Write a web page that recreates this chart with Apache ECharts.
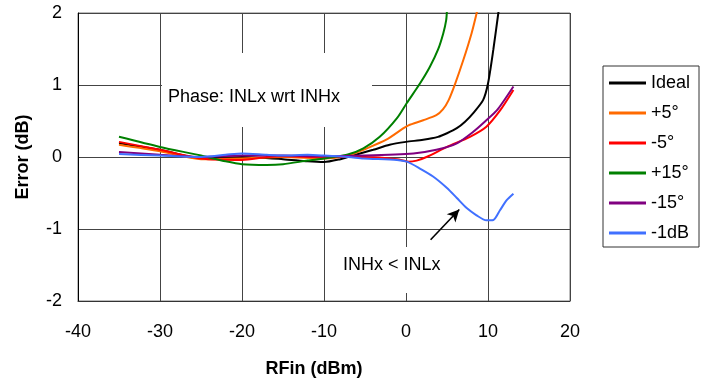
<!DOCTYPE html>
<html>
<head>
<meta charset="utf-8">
<script src="https://cdn.jsdelivr.net/npm/echarts@6/dist/echarts.min.js"></script>
<style>
  html, body { margin: 0; padding: 0; background: #fff; }
  #chart { width: 712px; height: 383px; }
</style>
</head>
<body>
<div id="chart"></div>
<script>
// Gain error vs. input power for several phase offsets between INLx and INHx
const seriesNames = ['Ideal', '+5°', '-5°', '+15°', '-15°', '-1dB'];
const seriesColors = ['#000000', '#ff6a00', '#ff0000', '#008000', '#800080', '#4070ff'];

// [RFin (dBm), Error (dB)]
const ideal = [[-35, 0.19], [-30, 0.10], [-25, -0.02], [-20, 0.0], [-15, -0.03], [-12, -0.06], [-10, -0.07],
  [-8, -0.03], [-6.8, 0.01], [-4, 0.10], [-2, 0.17], [0, 0.21], [2.1, 0.24], [3.9, 0.28], [5, 0.33],
  [6.2, 0.40], [7.2, 0.49], [8.2, 0.61], [9.4, 0.79], [10.0, 1.02], [10.65, 1.49], [11.26, 2.0], [11.4, 2.1]];
const plus5 = [[-35, 0.17], [-30, 0.08], [-25, -0.03], [-20, -0.02], [-15, 0.0], [-10, -0.02], [-7, 0.02],
  [-5.2, 0.10], [-2.4, 0.24], [-0.3, 0.40], [0.3, 0.44], [2.1, 0.51], [3.7, 0.58], [4.5, 0.66],
  [5.2, 0.79], [6.0, 1.02], [7.0, 1.35], [8.0, 1.72], [8.62, 2.0], [8.8, 2.1]];
const minus5 = [[-35, 0.21], [-30, 0.10], [-25, -0.02], [-20, -0.04], [-17, 0.0], [-15, 0.01], [-10, 0.0],
  [-5, 0.0], [-1.1, -0.03], [0.3, -0.065], [1.3, -0.05], [2.5, 0.0], [5.0, 0.14], [7.8, 0.28],
  [9.8, 0.42], [11.5, 0.65], [13.1, 0.93]];
const plus15 = [[-35, 0.28], [-30, 0.14], [-25, 0.02], [-22, -0.06], [-20, -0.10], [-17, -0.11], [-15, -0.10],
  [-12, -0.05], [-10, -0.02], [-7.2, 0.03], [-5.2, 0.12], [-3.2, 0.28], [-1.1, 0.54], [0.1, 0.75],
  [1.7, 1.02], [2.9, 1.25], [3.9, 1.49], [4.55, 1.72], [4.9, 1.9], [5.0, 2.05]];
const minus15 = [[-35, 0.07], [-30, 0.03], [-25, 0.0], [-20, 0.02], [-15, 0.02], [-10, 0.01], [-5, 0.02],
  [0.9, 0.05], [3.7, 0.10], [6.2, 0.19], [8.2, 0.35], [9.8, 0.51], [11.1, 0.65], [13.1, 0.98]];
const minus1dB = [[-35, 0.04], [-30, 0.02], [-25, 0.0], [-22, 0.03], [-20, 0.05], [-17, 0.03], [-15, 0.02],
  [-12, 0.03], [-10, 0.02], [-7, 0.0], [-5.2, -0.02], [-1.1, -0.04], [0.1, -0.065], [1.7, -0.16],
  [3.3, -0.27], [5.0, -0.43], [6.2, -0.57], [7.4, -0.71], [8.6, -0.81], [9.8, -0.88], [10.65, -0.875],
  [11.46, -0.74], [12.28, -0.60], [13.1, -0.51]];

const xTicks = [-40, -30, -20, -10, 0, 10, 20];
const yTicks = [-2, -1, 0, 1, 2];

// Annotation arrow pointing at the -1dB curve
const arrowFrom = [3.0, -1.15];
const arrowTo = [6.5, -0.73];

const allData = [ideal, plus5, minus5, plus15, minus15, minus1dB];
const FONT = 'Liberation Sans';

const chart = echarts.init(document.getElementById('chart'), null, { renderer: 'canvas' });

const series = allData.map((d, i) => ({
  name: seriesNames[i],
  type: 'line',
  data: d,
  smooth: 0.25,
  showSymbol: false,
  symbol: 'none',
  clip: true,
  z: 3,
  lineStyle: { color: seriesColors[i], width: 2 },
  itemStyle: { color: seriesColors[i] },
  emphasis: { disabled: true }
}));

series[5].markLine = {
  silent: true,
  symbol: ['none', 'arrow'],
  symbolSize: [9, 12],
  label: { show: false },
  lineStyle: { color: '#000', width: 1.6, type: 'solid' },
  data: [[{ coord: arrowFrom }, { coord: arrowTo }]]
};

chart.setOption({
  animation: false,
  backgroundColor: '#fff',
  grid: { left: 78, top: 13, right: 142, bottom: 82, show: true, borderColor: '#7a7a7a', borderWidth: 1 },
  xAxis: {
    type: 'value',
    min: xTicks[0], max: xTicks[xTicks.length - 1], interval: 10,
    axisLine: { show: true, onZero: false, lineStyle: { color: '#333', width: 1 } },
    axisTick: { show: false },
    splitLine: { show: true, lineStyle: { color: '#444', width: 1 } },
    axisLabel: { color: '#000', fontFamily: FONT, fontSize: 18, margin: 22 }
  },
  yAxis: {
    type: 'value',
    min: yTicks[0], max: yTicks[yTicks.length - 1], interval: 1,
    axisLine: { show: true, onZero: false, lineStyle: { color: '#000', width: 1 } },
    axisTick: { show: false },
    splitLine: { show: true, lineStyle: { color: '#444', width: 1 } },
    axisLabel: { color: '#000', fontFamily: FONT, fontSize: 18, margin: 16 }
  },
  legend: {
    orient: 'vertical',
    left: 609, top: 73,
    padding: 0,
    itemGap: 10,
    itemWidth: 37, itemHeight: 3,
    icon: 'rect',
    selectedMode: false,
    textStyle: { color: '#000', fontFamily: FONT, fontSize: 18, lineHeight: 20 },
    data: seriesNames
  },
  graphic: [
    { type: 'rect', z: 10, shape: { x: 603, y: 66, width: 96, height: 181 },
      style: { fill: 'none', stroke: '#333', lineWidth: 1 } },
    { type: 'rect', z: 1, shape: { x: 162, y: 53, width: 210, height: 74 }, style: { fill: '#fff' } },
    { type: 'text', z: 1, x: 168, y: 97,
      style: { text: 'Phase: INLx wrt INHx', fill: '#000', font: '18px "' + FONT + '"', textVerticalAlign: 'middle' } },
    { type: 'rect', z: 1, shape: { x: 332, y: 247, width: 122, height: 46 }, style: { fill: '#fff' } },
    { type: 'text', z: 1, x: 343, y: 265,
      style: { text: 'INHx < INLx', fill: '#000', font: '18px "' + FONT + '"', textVerticalAlign: 'middle' } },
    { type: 'text', z: 5, x: 314, y: 369,
      style: { text: 'RFin (dBm)', fill: '#000', font: 'bold 18px "' + FONT + '"', textAlign: 'center', textVerticalAlign: 'middle' } },
    { type: 'text', z: 5, x: 23, y: 157, rotation: Math.PI / 2,
      style: { text: 'Error (dB)', fill: '#000', font: 'bold 18px "' + FONT + '"', textAlign: 'center', textVerticalAlign: 'middle' } }
  ],
  series: series
});
</script>
</body>
</html>
